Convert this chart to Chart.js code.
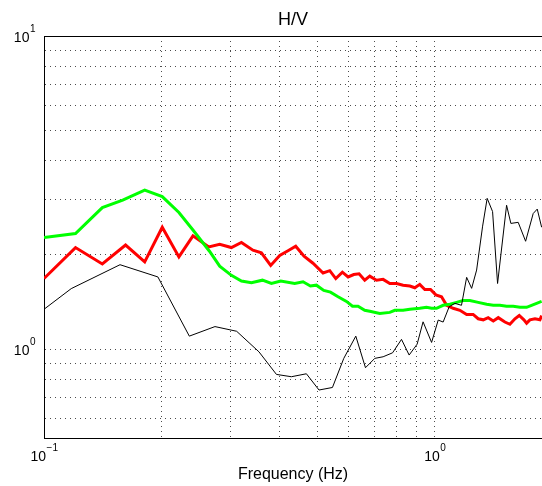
<!DOCTYPE html>
<html>
<head>
<meta charset="utf-8">
<script src="https://cdn.jsdelivr.net/npm/chart.js@4"></script>
<style>
  html, body { margin: 0; padding: 0; background: #fff; }
</style>
</head>
<body>
<canvas id="hv-chart" width="542" height="486"></canvas>
<script>
// values
const redFreq = [0.1, 0.1204, 0.141, 0.1617, 0.181, 0.2007, 0.2214, 0.2405, 0.264, 0.2815,
  0.3016, 0.32, 0.3424, 0.3599, 0.3802, 0.401, 0.421, 0.4406, 0.4627, 0.4878,
  0.5176, 0.5385, 0.5579, 0.58, 0.5998, 0.6203, 0.64, 0.6616, 0.6816, 0.709,
  0.7373, 0.767, 0.798, 0.8295, 0.863, 0.8887, 0.915, 0.9428, 0.975, 1.006,
  1.04, 1.072, 1.114, 1.159, 1.206, 1.253, 1.291, 1.33, 1.369, 1.411,
  1.453, 1.511, 1.556, 1.603, 1.644, 1.69, 1.717, 1.751, 1.804, 1.857, 1.876];
const redHV = [1.68, 2.11, 1.87, 2.15, 1.90, 2.45, 1.97, 2.30, 2.12, 2.16,
  2.11, 2.19, 2.07, 2.03, 1.85, 1.99, 2.06, 2.13, 1.98, 1.88,
  1.75, 1.78, 1.68, 1.76, 1.70, 1.73, 1.74, 1.66, 1.71, 1.66,
  1.67, 1.62, 1.62, 1.60, 1.59, 1.57, 1.61, 1.55, 1.55, 1.49,
  1.47, 1.38, 1.35, 1.33, 1.29, 1.29, 1.25, 1.24, 1.26, 1.23,
  1.26, 1.22, 1.20, 1.25, 1.28, 1.24, 1.21, 1.24, 1.25, 1.24, 1.28];

const greenFreq = [0.1, 0.1204, 0.141, 0.159, 0.181, 0.2007, 0.2214, 0.2405, 0.2654, 0.2815,
  0.3016, 0.32, 0.3394, 0.3622, 0.3818, 0.4034, 0.438, 0.46, 0.4804, 0.4977,
  0.5197, 0.5407, 0.5654, 0.5941, 0.6155, 0.636, 0.6616, 0.6816, 0.723, 0.767,
  0.79, 0.8295, 0.863, 0.915, 0.952, 0.981, 1.01, 1.05, 1.093, 1.137,
  1.181, 1.229, 1.291, 1.357, 1.411, 1.467, 1.526, 1.587, 1.651, 1.717,
  1.768, 1.821, 1.876];
const greenHV = [2.27, 2.34, 2.83, 2.99, 3.22, 3.07, 2.73, 2.40, 2.05, 1.84,
  1.72, 1.65, 1.63, 1.66, 1.62, 1.65, 1.62, 1.64, 1.59, 1.60,
  1.54, 1.52, 1.47, 1.42, 1.37, 1.37, 1.33, 1.32, 1.30, 1.31,
  1.33, 1.33, 1.34, 1.35, 1.36, 1.35, 1.35, 1.38, 1.39, 1.41,
  1.43, 1.43, 1.41, 1.39, 1.38, 1.38, 1.37, 1.37, 1.36, 1.36,
  1.38, 1.40, 1.42];

const blackFreq = [0.1, 0.1174, 0.1565, 0.1956, 0.2354, 0.2738, 0.3111, 0.3548, 0.3933, 0.4295,
  0.4692, 0.5054, 0.547, 0.5848, 0.6277, 0.6645, 0.702, 0.7373, 0.7795, 0.8217,
  0.8595, 0.901, 0.933, 0.981, 1.02, 1.05, 1.088, 1.125, 1.17, 1.206,
  1.242, 1.279, 1.325, 1.361, 1.405, 1.447, 1.526, 1.565, 1.634, 1.707,
  1.785, 1.828, 1.876];
const blackHV = [1.34, 1.56, 1.86, 1.70, 1.10, 1.18, 1.14, 0.98, 0.83, 0.816,
  0.834, 0.74, 0.754, 0.934, 1.10, 0.872, 0.934, 0.945, 0.973, 1.074,
  0.957, 1.037, 1.222, 1.05, 1.238, 1.22, 1.365, 1.40, 1.38, 1.695,
  1.563, 1.788, 2.47, 3.03, 2.75, 1.62, 2.88, 2.52, 2.54, 2.21,
  2.71, 2.80, 2.45];

const xTicks = [0.1, 0.2, 0.3, 0.4, 0.5, 0.6, 0.7, 0.8, 0.9, 1];
const xTickLabels = ["10^\u22121", "", "", "", "", "", "", "", "", "10^0"];
const yTicks = [0.6, 0.7, 0.8, 0.9, 1, 2, 3, 4, 5, 6, 7, 8, 9, 10];
const yTickLabels = ["", "", "", "", "10^0", "", "", "", "", "", "", "", "", "10^1"];

const fontFamily = "'Liberation Sans', Arial, Helvetica, sans-serif";

function toPoints(freq, hv) {
  return freq.map((f, i) => ({ x: f, y: hv[i] }));
}

// tick labels as 10 with a raised exponent, placed with the scales
function drawPower(ctx, label, x, baseY, alignRight) {
  const [base, exp] = label.split("^");
  ctx.font = "14px " + fontFamily;
  const wb = ctx.measureText(base).width;
  ctx.font = "10px " + fontFamily;
  const we = ctx.measureText(exp).width;
  const x0 = alignRight ? x - wb - we : x - (wb + we) / 2;
  ctx.font = "14px " + fontFamily;
  ctx.fillText(base, x0, baseY);
  ctx.font = "10px " + fontFamily;
  ctx.fillText(exp, x0 + wb + 0.5, baseY - 9.5);
}

const powerTickLabels = {
  id: "powerTickLabels",
  afterDraw(chart) {
    const { ctx, chartArea, scales } = chart;
    ctx.save();
    ctx.fillStyle = "#000";
    ctx.textAlign = "left";
    ctx.textBaseline = "alphabetic";
    xTicks.forEach((v, i) => {
      if (!xTickLabels[i]) return;
      drawPower(ctx, xTickLabels[i], scales.x.getPixelForValue(v), chartArea.bottom + 22.7, false);
    });
    yTicks.forEach((v, i) => {
      if (!yTickLabels[i]) return;
      drawPower(ctx, yTickLabels[i], chartArea.left - 9, scales.y.getPixelForValue(v) + 5.5, true);
    });
    ctx.restore();
  },
};

const gridStyle = { color: "rgba(0,0,0,0.7)", lineWidth: 1, drawTicks: false };
const borderStyle = { display: true, color: "#000", width: 1, dash: [1, 4] };

new Chart(document.querySelector("#hv-chart").getContext("2d"), {
  type: "line",
  data: {
    datasets: [
      { label: "black", data: toPoints(blackFreq, blackHV), borderColor: "#000", borderWidth: 1, order: 0 },
      { label: "green", data: toPoints(greenFreq, greenHV), borderColor: "#00ff00", borderWidth: 3, order: 1 },
      { label: "red", data: toPoints(redFreq, redHV), borderColor: "#ff0000", borderWidth: 3, order: 2 },
    ],
  },
  options: {
    responsive: false,
    animation: false,
    devicePixelRatio: 1,
    layout: { padding: 0 },
    elements: { point: { radius: 0 }, line: { tension: 0, fill: false } },
    plugins: {
      legend: { display: false },
      tooltip: { enabled: false },
    },
    scales: {
      x: {
        type: "logarithmic",
        min: 0.1,
        max: 1.88,
        afterBuildTicks: (scale) => { scale.ticks = xTicks.map((v) => ({ value: v })); },
        afterFit: (scale) => { scale.height = 48; },
        ticks: { display: false, autoSkip: false },
        grid: gridStyle,
        border: borderStyle,
        title: {
          display: true,
          text: "Frequency (Hz)",
          color: "#000",
          font: { family: fontFamily, size: 16 },
          padding: { top: 0, bottom: 1.6 },
        },
      },
      // top edge of the box, carries the title
      xTop: {
        type: "logarithmic",
        position: "top",
        min: 0.1,
        max: 1.88,
        afterFit: (scale) => { scale.height = 36; },
        ticks: { display: false },
        grid: { display: false, drawTicks: false },
        border: { display: true, color: "#000", width: 1 },
        title: {
          display: true,
          text: "H/V",
          color: "#000",
          font: { family: fontFamily, size: 18 },
          padding: { top: 9.2, bottom: 0 },
        },
      },
      y: {
        type: "logarithmic",
        min: 0.52,
        max: 10,
        afterBuildTicks: (scale) => { scale.ticks = yTicks.map((v) => ({ value: v })); },
        afterFit: (scale) => { scale.width = 44; },
        ticks: { display: false, autoSkip: false },
        grid: gridStyle,
        border: borderStyle,
      },
    },
  },
  plugins: [powerTickLabels],
});
</script>
</body>
</html>
